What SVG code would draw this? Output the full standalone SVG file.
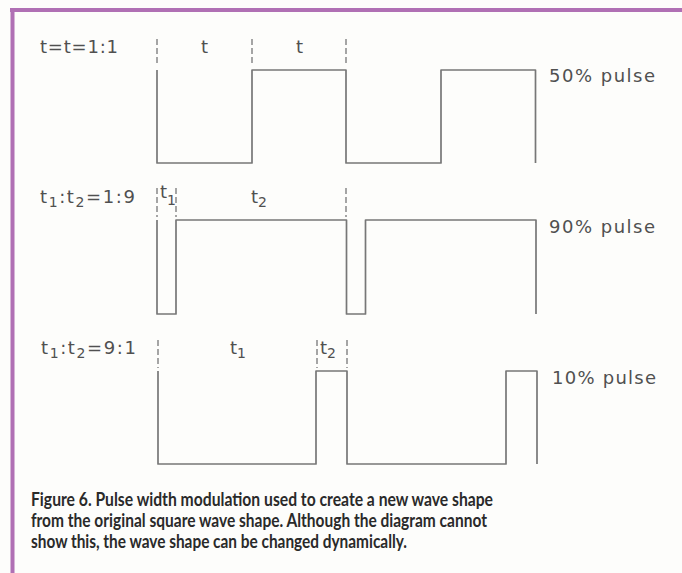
<svg xmlns="http://www.w3.org/2000/svg" width="682" height="573" viewBox="0 0 682 573">
<style>
.wave{fill:none;stroke:#777;stroke-width:1.7;stroke-linejoin:round}
.mark{fill:none;stroke:#777;stroke-width:1.3;stroke-dasharray:6 3}
.lbl{font-family:"DejaVu Sans","Liberation Sans",sans-serif;font-size:18px;fill:#505050}
.ratio{letter-spacing:1.6px}
.sub{font-size:14px}
.cap{font-family:Lato,"Liberation Sans",sans-serif;font-weight:bold;font-size:18px;fill:#2a2a2a}
</style>
<rect width="682" height="573" fill="#fdfdfb"/>
<g id="frame">
<line x1="10" y1="10" x2="682" y2="10" stroke="#b070b4" stroke-width="4"/>
<line x1="12.5" y1="8" x2="12.5" y2="573" stroke="#b070b4" stroke-width="4"/>
</g>
<g id="connectors">
<g id="row1-markers">
<line class="mark" x1="157" y1="39" x2="157" y2="66"/>
<line class="mark" x1="252" y1="39" x2="252" y2="66"/>
<line class="mark" x1="346" y1="39" x2="346" y2="66"/>
</g>
<g id="row2-markers">
<line class="mark" x1="157" y1="188" x2="157" y2="217"/>
<line class="mark" x1="176" y1="188" x2="176" y2="217"/>
<line class="mark" x1="346" y1="188" x2="346" y2="217"/>
</g>
<g id="row3-markers">
<line class="mark" x1="158" y1="340" x2="158" y2="368"/>
<line class="mark" x1="317" y1="340" x2="317" y2="368"/>
<line class="mark" x1="347" y1="340" x2="347" y2="368"/>
</g>
</g>
<g id="wave50">
<path class="wave" d="M157 70 V163 H252 V70 H346 V163 H441 V70 H535.5 V163"/>
<text class="lbl" x="40" y="53" textLength="78" lengthAdjust="spacing">t=t=1:1</text>
<text class="lbl" x="201" y="53">t</text>
<text class="lbl" x="296" y="53">t</text>
<text class="lbl" x="549" y="82" textLength="106" lengthAdjust="spacing">50%  pulse</text>
</g>
<g id="wave90">
<path class="wave" d="M157 220 V314 H176 V220 H346.5 V314 H365.5 V220 H536 V314"/>
<text class="lbl ratio" x="40" y="203">t<tspan class="sub" dy="4">1</tspan><tspan dy="-4">:t</tspan><tspan class="sub" dy="4">2</tspan><tspan dy="-4">=1:9</tspan></text>
<text class="lbl" x="160" y="198">t<tspan class="sub" dy="7">1</tspan></text>
<text class="lbl" x="251" y="203">t<tspan class="sub" dy="4">2</tspan></text>
<text class="lbl" x="549" y="233" textLength="106" lengthAdjust="spacing">90%  pulse</text>
</g>
<g id="wave10">
<path class="wave" d="M158 371 V464 H316 V371 H347 V464 H506 V371 H537 V464"/>
<text class="lbl ratio" x="41" y="354">t<tspan class="sub" dy="4">1</tspan><tspan dy="-4">:t</tspan><tspan class="sub" dy="4">2</tspan><tspan dy="-4">=9:1</tspan></text>
<text class="lbl" x="230" y="354">t<tspan class="sub" dy="4">1</tspan></text>
<text class="lbl" x="320" y="354">t<tspan class="sub" dy="4">2</tspan></text>
<text class="lbl" x="552" y="384" textLength="104" lengthAdjust="spacing">10%  pulse</text>
</g>
<g id="caption">
<text class="cap" x="31" y="506" textLength="462" lengthAdjust="spacingAndGlyphs">Figure 6. Pulse width modulation used to create a new wave shape</text>
<text class="cap" x="31" y="527" textLength="456" lengthAdjust="spacingAndGlyphs">from the original square wave shape. Although the diagram cannot</text>
<text class="cap" x="31" y="548" textLength="376" lengthAdjust="spacingAndGlyphs">show this, the wave shape can be changed dynamically.</text>
</g>
</svg>
